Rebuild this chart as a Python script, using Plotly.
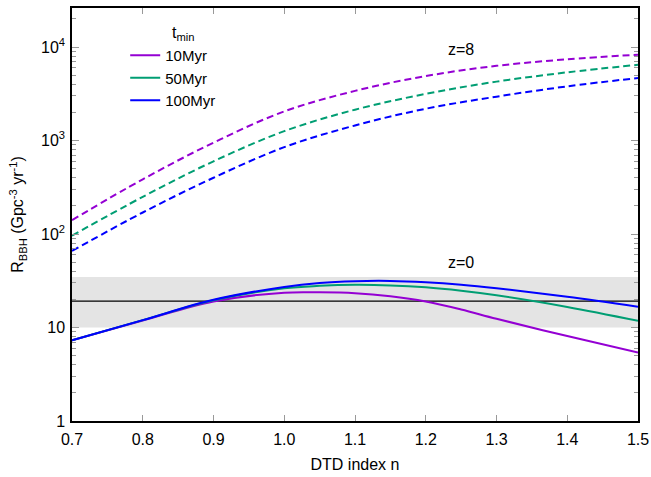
import plotly.graph_objects as go

# DTD index n
n_vals = [0.7, 0.8, 0.9, 1.0, 1.1, 1.2, 1.3, 1.4, 1.5]
n_fine = [0.7, 0.8, 0.9, 1.0, 1.05, 1.1, 1.15, 1.2, 1.25, 1.3, 1.4, 1.5]

# z = 0 merger rates (Gpc^-3 yr^-1)
z0_10myr = [7.3, 11.9, 19.0, 23.6, 23.8, 23.3, 21.6, 19.0, 15.6, 12.4, 8.1, 5.4]
z0_50myr = [7.3, 12.0, 19.6, 26.3, 27.9, 28.6, 28.2, 26.9, 24.7, 22.1, 16.6, 11.8]
z0_100myr = [7.3, 12.0, 19.8, 27.2, 30.0, 31.3, 31.5, 30.5, 28.7, 26.3, 21.3, 16.7]

# z = 8 merger rates
z8_10myr = [141, 385, 950, 2050, 3400, 4900, 6300, 7400, 8300]
z8_50myr = [96, 250, 600, 1260, 2140, 3160, 4270, 5370, 6460]
z8_100myr = [66, 170, 400, 850, 1450, 2190, 2950, 3800, 4670]

# observed rate band and central value
band_x = [0.7, 1.5]
band_low = [10.0, 10.0]
band_high = [34.7, 34.7]
obs_rate = [19.2, 19.2]

labels = ["10Myr", "50Myr", "100Myr"]
colors = ["#9400D3", "#009E73", "#0000FF"]

y_major = [1, 10, 100, 1000, 10000]
y_major_text = ["1", "10", "10<sup>2</sup>", "10<sup>3</sup>", "10<sup>4</sup>"]
y_minor = [m * 10 ** k for k in range(0, 5) for m in range(2, 10) if m * 10 ** k < 26000]
x_ticks = [0.7, 0.8, 0.9, 1.0, 1.1, 1.2, 1.3, 1.4, 1.5]
x_ticktext = ["0.7", "0.8", "0.9", "1.0", "1.1", "1.2", "1.3", "1.4", "1.5"]

FONT = "Liberation Sans, Arial, sans-serif"

fig = go.Figure()

# gray band
fig.add_trace(go.Scatter(x=band_x, y=band_low, mode="lines", line=dict(width=0, color="#e4e4e4"),
                         showlegend=False, hoverinfo="skip"))
fig.add_trace(go.Scatter(x=band_x, y=band_high, mode="lines", line=dict(width=0, color="#e4e4e4"),
                         fill="tonexty", fillcolor="#e4e4e4", showlegend=False, hoverinfo="skip"))
fig.add_trace(go.Scatter(x=band_x, y=obs_rate, mode="lines", line=dict(width=1.2, color="black"),
                         showlegend=False, hoverinfo="skip"))

for series, lab, col in zip([z8_10myr, z8_50myr, z8_100myr], labels, colors):
    fig.add_trace(go.Scatter(x=n_vals, y=series, mode="lines",
                             line=dict(color=col, width=2, dash="7px,4px", shape="spline"),
                             showlegend=False))

for series, lab, col in zip([z0_10myr, z0_50myr, z0_100myr], labels, colors):
    fig.add_trace(go.Scatter(x=n_fine, y=series, mode="lines", name=lab,
                             line=dict(color=col, width=2, shape="spline")))

fig.add_annotation(x=1.25, y=3.97, xref="x", yref="y", text="z=8", showarrow=False,
                   font=dict(family=FONT, size=16, color="black"))
fig.add_annotation(x=1.25, y=1.70, xref="x", yref="y", text="z=0", showarrow=False,
                   font=dict(family=FONT, size=16, color="black"))
# legend title
fig.add_annotation(x=0.174, y=0.965, xref="paper", yref="paper", text="t<sub>min</sub>", showarrow=False,
                   font=dict(family=FONT, size=16, color="black"))

fig.update_layout(
    width=651, height=477,
    margin=dict(l=72, r=13, t=8, b=56, autoexpand=False),
    paper_bgcolor="white", plot_bgcolor="white",
    font=dict(family=FONT, size=16, color="black"),
    legend=dict(
        x=0.094, y=0.925, xanchor="left", yanchor="top",
        bgcolor="rgba(0,0,0,0)", traceorder="normal",
        font=dict(size=15), tracegroupgap=0,
    ),
)

fig.update_xaxes(
    range=[0.7, 1.5], tickmode="array", tickvals=x_ticks, ticktext=x_ticktext,
    ticks="inside", ticklen=6, tickcolor="#999999", tickwidth=1,
    showline=True, linecolor="black", linewidth=1.5, mirror="allticks",
    showgrid=False, zeroline=False, ticklabelstandoff=3, automargin=False,
    title=dict(text="DTD index n", font=dict(size=16), standoff=12),
    tickfont=dict(size=16),
)
fig.update_yaxes(
    type="log", range=[0, 4.418], tickmode="array", tickvals=y_major, ticktext=y_major_text,
    ticks="inside", ticklen=7, tickcolor="#999999", tickwidth=1,
    minor=dict(tickmode="array", tickvals=y_minor, ticks="inside", ticklen=4, tickcolor="#999999", showgrid=False),
    showline=True, linecolor="black", linewidth=1.5, mirror="allticks",
    showgrid=False, zeroline=False, ticklabelstandoff=2, automargin=False,
    title=dict(text="R<sub>BBH</sub> (Gpc<sup>-3</sup> yr<sup>-1</sup>)", font=dict(size=16), standoff=13),
    tickfont=dict(size=16),
)

fig.write_html("out.html", config={"displayModeBar": False},
               post_script="document.body.style.margin='0';document.body.style.padding='0';")
